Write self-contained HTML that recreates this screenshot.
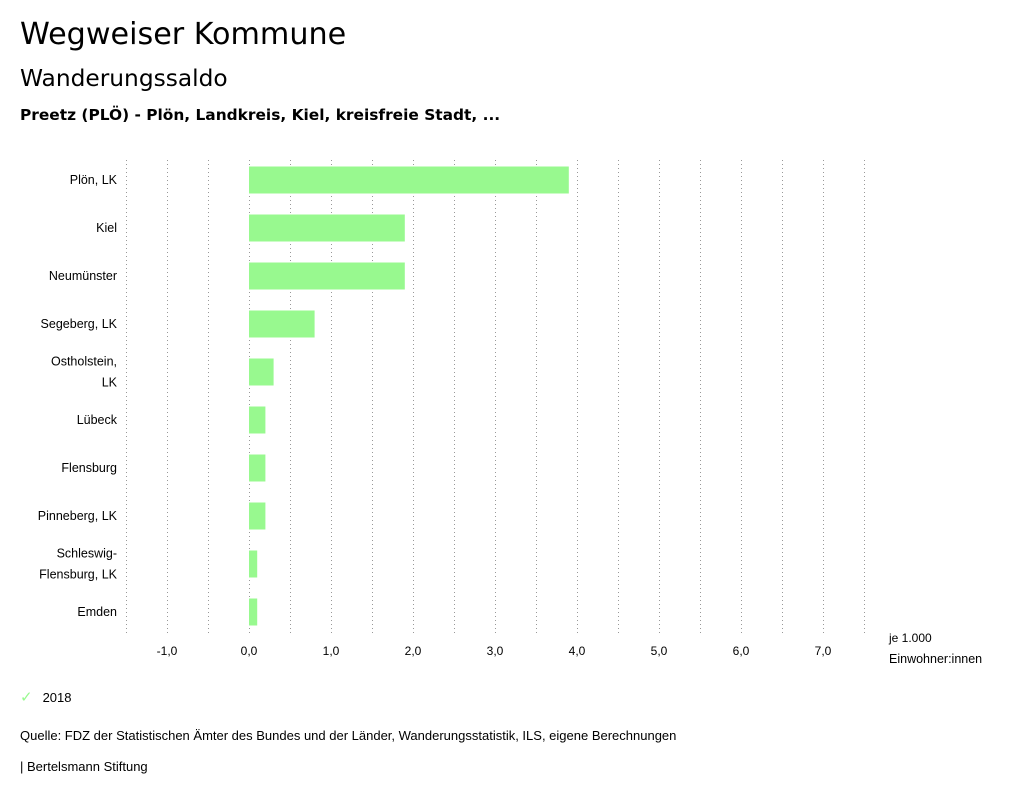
<!DOCTYPE html>
<html><head><meta charset="utf-8">
<style>
body{margin:0;background:#fff;font-family:"Liberation Sans","DejaVu Sans",sans-serif;color:#000;}
#wrap{position:relative;width:1024px;height:799px;overflow:hidden;}
.t{position:absolute;white-space:nowrap;}
.dj{font-family:"DejaVu Sans","Liberation Sans",sans-serif;}
</style></head><body>
<div id="wrap">
<div class="t dj" style="left:20px;top:17px;font-size:30.2px;">Wegweiser Kommune</div>
<div class="t dj" style="left:20px;top:65px;font-size:23.3px;">Wanderungssaldo</div>
<div class="t dj" style="left:20px;top:106px;font-size:15.4px;font-weight:bold;">Preetz (PLÖ) - Plön, Landkreis, Kiel, kreisfreie Stadt, ...</div>
<svg id="chart" width="1024" height="799" style="position:absolute;left:0;top:0"></svg>
<div class="t" style="left:20px;top:688px;font-size:13px;"><span style="color:#98f98f;margin-right:10px;font-size:15px;font-family:'DejaVu Sans',sans-serif;">✓</span>2018</div>
<div class="t" style="left:20px;top:728px;font-size:13px;">Quelle: FDZ der Statistischen Ämter des Bundes und der Länder, Wanderungsstatistik, ILS, eigene Berechnungen</div>
<div class="t" style="left:20px;top:759px;font-size:13px;">| Bertelsmann Stiftung</div>
</div>
<script>
const categories=[["Plön, LK"],["Kiel"],["Neumünster"],["Segeberg, LK"],["Ostholstein,","LK"],["Lübeck"],["Flensburg"],["Pinneberg, LK"],["Schleswig-","Flensburg, LK"],["Emden"]];
const values2018=[3.9,1.9,1.9,0.8,0.3,0.2,0.2,0.2,0.1,0.1];
const tickValues=[-1,0,1,2,3,4,5,6,7];
const tickLabels=["-1,0","0,0","1,0","2,0","3,0","4,0","5,0","6,0","7,0"];
const gridValues=[-1.5,-1,-0.5,0,0.5,1,1.5,2,2.5,3,3.5,4,4.5,5,5.5,6,6.5,7,7.5];
const NS="http://www.w3.org/2000/svg";
const svg=document.getElementById('chart');
const x=v=>249+v*82;
const y=i=>180+i*48;
function mk(t,a){const e=document.createElementNS(NS,t);for(const k in a)e.setAttribute(k,a[k]);svg.appendChild(e);return e;}
gridValues.forEach(g=>{
  const l=mk('line',{x1:x(g)+0.5,x2:x(g)+0.5,y1:160,y2:635,stroke:'#999','stroke-dasharray':'1,3','stroke-width':1});
  
  
});
tickValues.forEach((v,i)=>{
  const t=mk('text',{x:x(v),y:655,'text-anchor':'middle','font-size':12,fill:'#000'});
  t.textContent=tickLabels[i];
  
  
});
categories.forEach((c,i)=>{
  const v=values2018[i];
  const r=mk('rect',{x:Math.min(x(0),x(v)),y:y(i)-13.5,width:Math.abs(x(v)-x(0)),height:27,fill:'#98f98f'});
  
  
  c.forEach((line,j)=>{
    const t=mk('text',{x:117,y:y(i)+4+(j-(c.length-1)/2)*21,'text-anchor':'end','font-size':12.5,fill:'#000'});
    t.textContent=line;
    
    
  });
});
const u1=mk('text',{x:889,y:642,'font-size':12,fill:'#000'});u1.textContent='je 1.000';


const u2=mk('text',{x:889,y:663,'font-size':12.5,fill:'#000'});u2.textContent='Einwohner:innen';


</script>
</body></html>
